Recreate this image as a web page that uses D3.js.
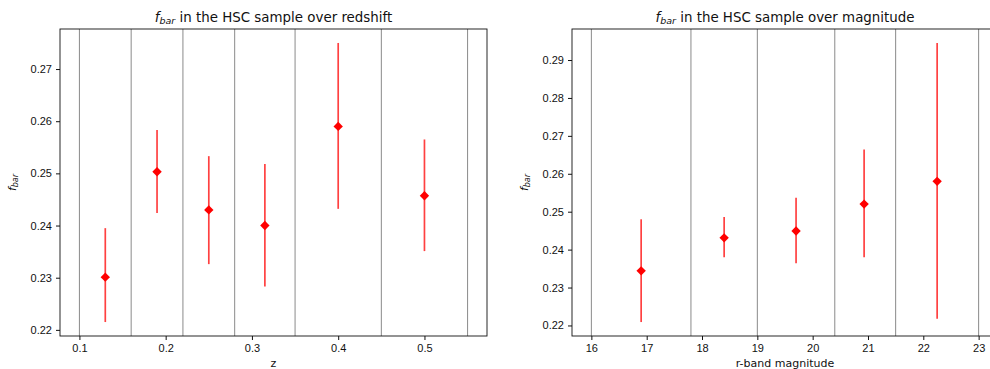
<!DOCTYPE html>
<meta charset="utf-8">
<style>
body { margin: 0; background: #fff; overflow: hidden; }
svg { font-family: "DejaVu Sans", sans-serif; display: block; }
.tick text { font-size: 11px; fill: #111; }
.tick line { stroke: #111; }
.domain { display: none; }
</style>
<body>
<svg id="fig" width="990" height="369"></svg>
<script src="https://cdn.jsdelivr.net/npm/d3@7"></script>
<script>

// redshift panel
var zVals  = [0.13, 0.19, 0.25, 0.315, 0.40, 0.50];
var zFbar  = [0.2301, 0.2503, 0.2430, 0.2400, 0.2590, 0.2457];
var zLow   = [0.2215, 0.2424, 0.2326, 0.2283, 0.2432, 0.2351];
var zHigh  = [0.2395, 0.2583, 0.2533, 0.2518, 0.2750, 0.2565];
var zEdges = [0.10, 0.16, 0.22, 0.28, 0.35, 0.45, 0.55];
var zXTicks = [0.1, 0.2, 0.3, 0.4, 0.5];
var zYTicks = [0.22, 0.23, 0.24, 0.25, 0.26, 0.27];

// magnitude panel
var magVals  = [16.9, 18.4, 19.7, 20.93, 22.25];
var magFbar  = [0.2344, 0.2431, 0.2449, 0.2520, 0.2580];
var magLow   = [0.2209, 0.2380, 0.2364, 0.2380, 0.2218];
var magHigh  = [0.2480, 0.2486, 0.2537, 0.2664, 0.2945];
var magEdges = [16, 17.8, 19, 20.4, 21.5, 23];
var magXTicks = [16, 17, 18, 19, 20, 21, 22, 23];
var magYTicks = [0.22, 0.23, 0.24, 0.25, 0.26, 0.27, 0.28, 0.29];

var svg = d3.select("#fig");

function pad(ext) {
  var m = (ext[1] - ext[0]) * 0.05;
  return [ext[0] - m, ext[1] + m];
}

function panel(opt) {
  var left = opt.left, right = opt.right, top = 29, bottom = 336;
  var x = d3.scaleLinear().domain(pad(d3.extent(opt.edges.concat(opt.xs)))).range([left, right]);
  var y = d3.scaleLinear().domain(pad([d3.min(opt.low), d3.max(opt.high)])).range([bottom, top]);

  var g = svg.append("g");

  // bin edges
  g.selectAll(".edge")
    .data(opt.edges)
    .enter().append("line")
      .attr("class", "edge")
      .attr("x1", function(d) { return x(d); })
      .attr("x2", function(d) { return x(d); })
      .attr("y1", top)
      .attr("y2", bottom)
      .attr("stroke", "#8a8a8a")
      .attr("stroke-width", 1);

  // error bars
  g.selectAll(".err")
    .data(opt.xs)
    .enter().append("line")
      .attr("class", "err")
      .attr("x1", function(d) { return x(d); })
      .attr("x2", function(d) { return x(d); })
      .attr("y1", function(d, i) { return y(opt.low[i]); })
      .attr("y2", function(d, i) { return y(opt.high[i]); })
      .attr("stroke", "#ff0000")
      .attr("stroke-opacity", 0.75)
      .attr("stroke-width", 1.7);

  var diamond = d3.symbol().type(d3.symbolSquare).size(44);
  g.selectAll(".pt")
    .data(opt.xs)
    .enter().append("path")
      .attr("class", "pt")
      .attr("d", diamond)
      .attr("fill", "#ff0000")
      .attr("transform", function(d, i) {
        return "translate(" + x(d) + "," + y(opt.ys[i]) + ") rotate(45)";
      });

  // frame
  g.append("rect")
    .attr("x", left).attr("y", top)
    .attr("width", right - left).attr("height", bottom - top)
    .attr("fill", "none")
    .attr("stroke", "#111")
    .attr("stroke-width", 0.9);

  g.append("g")
    .attr("transform", "translate(0," + bottom + ")")
    .call(d3.axisBottom(x).tickValues(opt.xticks).tickSize(4).tickPadding(4).tickFormat(opt.xfmt));

  g.append("g")
    .attr("transform", "translate(" + left + ",0)")
    .call(d3.axisLeft(y).tickValues(opt.yticks).tickSize(4).tickPadding(4).tickFormat(d3.format(".2f")));

  // title
  var t = g.append("text")
    .attr("x", (left + right) / 2)
    .attr("y", 22)
    .attr("text-anchor", "middle")
    .style("font-size", "13.4px")
    .attr("fill", "#111");
  t.append("tspan").style("font-style", "italic").text("f");
  t.append("tspan").style("font-style", "italic").style("font-size", "9.5px").attr("dy", 2).text("bar");
  t.append("tspan").attr("dy", -2).text(" in the HSC sample over " + opt.what);

  // x label
  g.append("text")
    .attr("x", (left + right) / 2)
    .attr("y", 367)
    .attr("text-anchor", "middle")
    .style("font-size", "11px")
    .attr("fill", "#111")
    .text(opt.xlabel);

  // y label
  var yl = g.append("text")
    .attr("transform", "translate(" + opt.ylabx + "," + (top + bottom) / 2 + ") rotate(-90)")
    .attr("text-anchor", "middle")
    .style("font-size", "11px")
    .attr("fill", "#111");
  yl.append("tspan").style("font-style", "italic").text("f");
  yl.append("tspan").style("font-style", "italic").style("font-size", "8px").attr("dy", 2).text("bar");
}

panel({
  left: 60, right: 487,
  xs: zVals, ys: zFbar, low: zLow, high: zHigh, edges: zEdges,
  xticks: zXTicks, yticks: zYTicks, xfmt: d3.format(".1f"),
  what: "redshift", xlabel: "z", ylabx: 16
});

panel({
  left: 572, right: 998,
  xs: magVals, ys: magFbar, low: magLow, high: magHigh, edges: magEdges,
  xticks: magXTicks, yticks: magYTicks, xfmt: d3.format("d"),
  what: "magnitude", xlabel: "r-band magnitude", ylabx: 528
});

</script>
</body>
